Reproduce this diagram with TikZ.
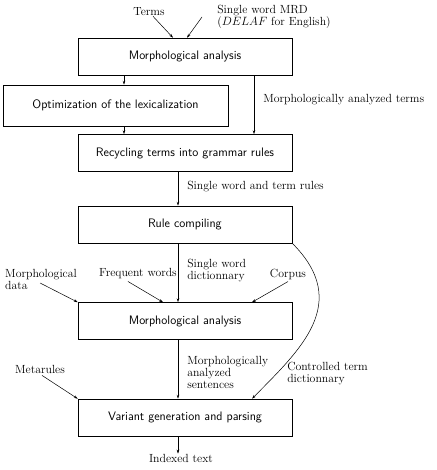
\documentclass[tikz,border=0pt]{standalone}
\usepackage{tikz}
\usetikzlibrary{arrows.meta,positioning}

\begin{document}
\begin{tikzpicture}[x=1pt, y=-1pt, >={Stealth[length=4pt, width=2.6pt]}, line width=0.5pt,
    box/.style={draw, font=\sffamily\fontsize{12.3}{14}\selectfont, minimum width=214pt, minimum height=37pt, inner sep=0pt},
    lab/.style={font=\fontsize{11.8}{12}\selectfont, align=left, inner sep=0pt}]
  \useasboundingbox (0,0) rectangle (436,470);
  % main column
  \node[box] (ma) at (185,56.5) {Morphological analysis};
  \node[box, minimum width=225pt, minimum height=41pt] (opt) at (115.5,105.5) {Optimization of the lexicalization};
  \node[box, below=59pt of ma] (rec) {Recycling terms into grammar rules};
  \node[box, below=34pt of rec] (rc) {Rule compiling};
  \node[box, below=59pt of rc] (ma2) {Morphological analysis};
  \node[box, below=59pt of ma2] (var) {Variant generation and parsing};
  % inputs
  \node[lab] (terms) at (149,12) {Terms};
  \node[lab, anchor=west] (mrd) at (217,17) {Single word MRD\\($DELAF$ for English)};
  \node[lab, anchor=west] (mdata) at (5,279) {Morphological\\data};
  \node[lab] (freq) at (138,274) {Frequent words};
  \node[lab] (corpus) at (288,274) {Corpus};
  \node[lab] (meta) at (40,369) {Metarules};
  \node[lab, anchor=west] (ctd) at (287,374) {Controlled term\\dictionnary};
  \node[lab] (idx) at (181,458) {Indexed text};
  \draw[->] ([xshift=4pt]terms.south) -- ([xshift=-12pt]ma.north);
  \draw[->] ([xshift=-15pt]mrd.west) -- ([xshift=2pt]ma.north);
  \draw[->] ([xshift=-61pt]ma.south) -- ([xshift=8.5pt]opt.north);
  \draw[->] ([xshift=8.5pt]opt.south) -- ([xshift=-61pt]rec.north);
  \draw[->] ([xshift=69pt]ma.south) -- node[lab, pos=0.42, right=9pt] (mat) {Morphologically analyzed terms} ([xshift=69pt]rec.north);
  \draw[->] ([xshift=-7pt]rec.south) -- node[lab, pos=0.44, right=9pt] (swr) {Single word and term rules} ([xshift=-7pt]rc.north);
  \draw[->] ([xshift=-7pt]rc.south) -- node[lab, pos=0.46, right=9pt] (swd) {Single word\\dictionnary} ([xshift=-7pt]ma2.north);
  \draw[->] ([xshift=-7pt]ma2.south) -- node[lab, pos=0.55, right=9pt] (mas) {Morphologically\\analyzed\\sentences} ([xshift=-7pt]var.north);
  \draw[->] ([xshift=-7pt]var.south) -- ([xshift=-3pt]idx.north);
  \draw[->] ([xshift=-37pt, yshift=-4pt]mdata.east) -- (ma2.north west);
  \draw[->] ([xshift=-10pt, yshift=-2pt]freq.south) -- ([xshift=-22pt]ma2.north);
  \draw[->] ([yshift=-2pt]corpus.south) -- ([xshift=67pt]ma2.north);
  \draw[->] ([xshift=2pt, yshift=-2pt]meta.south) -- (var.north west);
  \draw[->] (rc.south east) .. controls (352,303) and (300,350) .. ([xshift=67pt]var.north);
\end{tikzpicture}
\end{document}
